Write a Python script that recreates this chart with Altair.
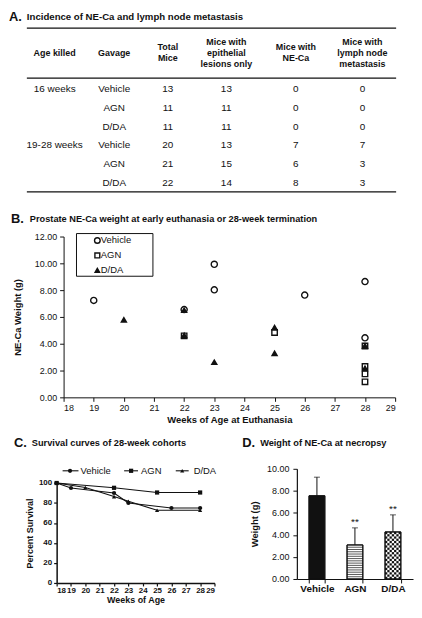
import altair as alt
import pandas as pd

FONT = "Liberation Sans"
INK = "#111111"

# ---------------- Panel A: table ----------------
table_headers = ["Age killed", "Gavage", "Total\nMice", "Mice with\nepithelial\nlesions only",
                 "Mice  with\nNE-Ca", "Mice with\nlymph node\nmetastasis"]
age_killed = ["16 weeks", "", "", "19-28 weeks", "", ""]
gavage = ["Vehicle", "AGN", "D/DA", "Vehicle", "AGN", "D/DA"]
total_mice = [13, 11, 11, 20, 21, 22]
epithelial_only = [13, 11, 11, 13, 15, 14]
mice_neca = [0, 0, 0, 7, 6, 8]
lymph_meta = [0, 0, 0, 7, 3, 3]

# ---------------- Panel B: scatter ----------------
groups = ["Vehicle", "AGN", "D/DA"]
b_vehicle_weeks = [19, 22, 23, 23, 26, 28, 28]
b_vehicle_wt = [7.23, 6.55, 9.93, 8.02, 7.63, 8.64, 4.44]
b_agn_weeks = [22, 25, 28, 28, 28, 28]
b_agn_wt = [4.59, 4.84, 3.83, 2.30, 1.75, 1.16]
b_dda_weeks = [20, 22, 22, 23, 25, 25, 28, 28]
b_dda_wt = [5.78, 6.50, 4.62, 2.62, 5.21, 3.28, 2.17, 3.85]

# ---------------- Panel C: survival ----------------
c_vehicle_weeks = [18, 19, 22, 23, 26, 28]
c_vehicle_surv = [100, 95, 90, 80, 75, 75]
c_agn_weeks = [18, 22, 25, 28]
c_agn_surv = [100, 95.2, 90.5, 90.5]
c_dda_weeks = [18, 20, 22, 23, 25, 28]
c_dda_surv = [100, 95.5, 86.4, 81.8, 72.7, 72.7]

# ---------------- Panel D: bars ----------------
d_mean = [7.55, 3.09, 4.27]
d_upper = [9.24, 4.64, 5.82]
d_sig = ["", "**", "**"]

shapes = ["circle", "square", "triangle-up"]
sym_size = {"circle": 38, "square": 30, "triangle-up": 26}


def one():
    return alt.Chart(pd.DataFrame({"k": [0]}))


def txt(text, x, y, size, weight="bold", align="left"):
    return one().mark_text(
        text=text, font=FONT, fontSize=size, fontWeight=weight, align=align,
        baseline="middle", color=INK).encode(x=alt.value(x), y=alt.value(y))


# ===== A =====
col_x = [-9, 51, 105, 164, 234, 301]
row_px = 19.075           # pixels per table row
line_rows = 11 / row_px   # header line spacing in row units
xA = alt.Scale(domain=list(range(6)), range=col_x, zero=False, nice=False)
yA = alt.Scale(domain=[-3.2, 5.45], range=[0, 165], zero=False, nice=False)

rows = []
for i in range(6):
    cells = [age_killed[i], gavage[i], total_mice[i], epithelial_only[i], mice_neca[i], lymph_meta[i]]
    for c, v in enumerate(cells):
        if v != "":
            rows.append({"row": i, "col": c, "txt": str(v)})
body = pd.DataFrame(rows)

hdr_rows = []
for c, h in enumerate(table_headers):
    parts = h.split("\n")
    n = len(parts)
    for k, p in enumerate(parts):
        hdr_rows.append({"col": c, "txt": p, "row": -1.9 + (k - (n - 1) / 2) * line_rows})
hdr = pd.DataFrame(hdr_rows)
rule_rows = pd.DataFrame({"row": [-3.2, -0.56, 5.45]})

A_body = alt.Chart(body).mark_text(font=FONT, fontSize=10, color=INK).encode(
    x=alt.X("col:Q", scale=xA, axis=None), y=alt.Y("row:Q", scale=yA, axis=None), text="txt:N")
A_hdr = alt.Chart(hdr).mark_text(font=FONT, fontSize=9, fontWeight="bold", color=INK).encode(
    x=alt.X("col:Q", scale=xA, axis=None), y=alt.Y("row:Q", scale=yA, axis=None), text="txt:N")
A_rules = alt.Chart(rule_rows).mark_rule(color=INK, strokeWidth=1.2).encode(
    y=alt.Y("row:Q", scale=yA, axis=None), x=alt.value(-37), x2=alt.value(335))
A = alt.layer(A_rules, A_hdr, A_body,
              txt("A.", -55, -11.5, 13),
              txt("Incidence of NE-Ca and lymph node metastasis", -37, -11.5, 9.7)
              ).properties(width=334, height=165)

# ===== B =====
dfB = pd.DataFrame({
    "week": b_vehicle_weeks + b_agn_weeks + b_dda_weeks,
    "wt": b_vehicle_wt + b_agn_wt + b_dda_wt,
    "group": ["Vehicle"] * len(b_vehicle_wt) + ["AGN"] * len(b_agn_wt) + ["D/DA"] * len(b_dda_wt),
})
xB = alt.X("week:Q", scale=alt.Scale(domain=[18, 29], nice=False, zero=False),
           axis=alt.Axis(values=list(range(18, 30)), format="d", title="Weeks of Age at Euthanasia",
                         labelFontSize=9, titleFontSize=9.5, titleFontWeight="bold",
                         tickSize=4, labelPadding=2, titlePadding=2))
yB = alt.Y("wt:Q", scale=alt.Scale(domain=[0, 12], nice=False),
           axis=alt.Axis(values=[0, 2, 4, 6, 8, 10, 12], format=".2f", title="NE-Ca Weight (g)",
                         labelFontSize=9, titleFontSize=9.5, titleFontWeight="bold",
                         tickSize=4, labelPadding=3, titlePadding=12))
b_fill = {"Vehicle": "transparent", "AGN": "transparent", "D/DA": INK}
B_layers = []
for g, shp in zip(groups, shapes):
    B_layers.append(
        alt.Chart(dfB).transform_filter(alt.datum.group == g).mark_point(
            shape=shp, filled=True, fill=b_fill[g], stroke=INK, strokeWidth=1.4,
            size=sym_size[shp], opacity=1
        ).encode(x=xB, y=yB))
# legend (box, symbols, labels)
B_leg = [one().mark_rect(fillOpacity=0, stroke=INK, strokeWidth=1).encode(
    x=alt.value(13), x2=alt.value(90), y=alt.value(-3), y2=alt.value(40))]
leg_rows_B = [4, 19, 34]
for g, shp, yy in zip(groups, shapes, leg_rows_B):
    B_leg.append(one().mark_point(shape=shp, filled=True, fill=b_fill[g], stroke=INK,
                                  strokeWidth=1.4, size=sym_size[shp] - 6, opacity=1).encode(
        x=alt.value(34), y=alt.value(yy)))
    B_leg.append(txt(g, 37.5, yy, 9.5, weight="normal"))
B = alt.layer(*B_layers, *B_leg,
              txt("B.", -53, -18, 13),
              txt("Prostate NE-Ca weight at early euthanasia or 28-week termination", -34, -18, 9.3)
              ).properties(width=334, height=162)

# ===== C =====
dfC = pd.DataFrame({
    "week": c_vehicle_weeks + c_agn_weeks + c_dda_weeks,
    "surv": c_vehicle_surv + c_agn_surv + c_dda_surv,
    "group": ["Vehicle"] * len(c_vehicle_surv) + ["AGN"] * len(c_agn_surv) + ["D/DA"] * len(c_dda_surv),
})
C_H = 142
xC = alt.X("week:Q", scale=alt.Scale(domain=[18, 29], range=[-7, 152], nice=False, zero=False),
           axis=alt.Axis(values=list(range(18, 30)), format="d", title="Weeks of Age",
                         labelFontSize=8, labelFontWeight="bold", titleFontSize=9, titleFontWeight="bold",
                         tickSize=3, labelPadding=1, titlePadding=1, domainWidth=1.5, tickWidth=1.2))
yC = alt.Y("surv:Q", scale=alt.Scale(domain=[0, 100], range=[C_H, C_H - 100.7], nice=False),
           axis=alt.Axis(values=[0, 20, 40, 60, 80, 100], title="Percent Survival", offset=7,
                         labelFontSize=8, labelFontWeight="bold", titleFontSize=9, titleFontWeight="bold",
                         tickSize=3, labelPadding=2, titlePadding=4, domainWidth=1.5, tickWidth=1.2))
C_line = alt.Chart(dfC).mark_line(color=INK, strokeWidth=1.1).encode(x=xC, y=yC, detail="group:N")
C_pts = []
for g, shp in zip(groups, shapes):
    C_pts.append(alt.Chart(dfC).transform_filter(alt.datum.group == g).mark_point(
        shape=shp, filled=True, color=INK, size=18, opacity=1).encode(x=xC, y=yC))

leg_line = [(-1, 15), (61, 75), (113, 126)]
leg_mark = [6.5, 68, 119.5]
leg_text = [17, 78, 131]
leg_y = 29
C_leg = []
for g, shp, (l0, l1), mx, tx in zip(groups, shapes, leg_line, leg_mark, leg_text):
    C_leg.append(one().mark_rule(color=INK, strokeWidth=1.1).encode(
        x=alt.value(l0), x2=alt.value(l1), y=alt.value(leg_y)))
    C_leg.append(one().mark_point(shape=shp, filled=True, color=INK, size=18, opacity=1).encode(
        x=alt.value(mx), y=alt.value(leg_y)))
    C_leg.append(txt(g, tx, leg_y, 9.5, weight="normal"))
C = alt.layer(C_line, *C_pts, *C_leg,
              txt("C.", -50, 1, 13),
              txt("Survival curves of 28-week cohorts", -32, 1, 9.3)
              ).properties(width=152, height=C_H)

# ===== D =====
D_H = 138
dfD = pd.DataFrame({"group": groups, "mean": d_mean, "upper": d_upper, "sig": d_sig})
xD = alt.X("group:N", sort=groups, scale=alt.Scale(domain=groups, paddingInner=0.584, paddingOuter=0.32),
           axis=alt.Axis(title=None, labelAngle=0, tickBand="extent", labelFontWeight="bold",
                         labelFontSize=10, tickSize=4, labelPadding=1, domainWidth=1.2))


def yD(field):
    return alt.Y(field, type="quantitative",
                 scale=alt.Scale(domain=[0, 10], range=[D_H, D_H - 111], nice=False),
                 axis=alt.Axis(values=[0, 2, 4, 6, 8, 10], format=".2f", title="Weight (g)",
                               labelFontSize=9, titleFontSize=9.5, titleFontWeight="bold",
                               tickSize=4, labelPadding=4, titlePadding=7, domainWidth=1.2))


# texture of AGN (horizontal stripes) and D/DA (checkerboard) bars
agn_i = groups.index("AGN")
n_stripes = 15
stripes = pd.DataFrame({"group": ["AGN"] * (n_stripes - 1),
                        "y": [d_mean[agn_i] * k / n_stripes for k in range(1, n_stripes)]})
dda_i = groups.index("D/DA")
n_rows, n_cols = 21, 7
chk = []
for r in range(n_rows):
    for c in range(n_cols):
        if (r + c) % 2 == 0:
            chk.append({"group": "D/DA", "c": c,
                        "y0": d_mean[dda_i] * r / n_rows, "y1": d_mean[dda_i] * (r + 1) / n_rows})
chk = pd.DataFrame(chk)

D_black = alt.Chart(dfD).transform_filter(alt.datum.group == "Vehicle").mark_bar(
    fill=INK, stroke=INK, strokeWidth=1).encode(x=xD, y=yD("mean"))
D_white = alt.Chart(dfD).transform_filter(alt.datum.group != "Vehicle").mark_bar(
    fill="white", stroke=INK, strokeWidth=1).encode(x=xD, y=yD("mean"))
D_stripes = alt.Chart(stripes).mark_tick(color=INK, size=16, thickness=1).encode(x=xD, y=yD("y"))
D_chk = alt.Chart(chk).mark_bar(color=INK).encode(
    x=xD, xOffset=alt.XOffset("c:O", scale=alt.Scale(paddingInner=0, paddingOuter=0)),
    y=yD("y0"), y2="y1")
D_outline = alt.Chart(dfD).mark_bar(fillOpacity=0, stroke=INK, strokeWidth=1).encode(x=xD, y=yD("mean"))
D_err = alt.Chart(dfD).mark_rule(color=INK, strokeWidth=1).encode(x=xD, y=yD("mean"), y2="upper")
D_cap = alt.Chart(dfD).mark_tick(color=INK, size=6, thickness=1).encode(x=xD, y=yD("upper"))
D_star = alt.Chart(dfD).mark_text(font=FONT, fontSize=10, color=INK, dy=-6).encode(
    x=xD, y=yD("upper"), text="sig:N")
D = alt.layer(D_black, D_white, D_stripes, D_chk, D_outline, D_err, D_cap, D_star,
              txt("D.", -55, 1, 13),
              txt("Weight of NE-Ca at necropsy", -37, 1, 9.3)
              ).properties(width=117, height=D_H)

chart = alt.vconcat(
    A, B, alt.hconcat(C, D, spacing=83, bounds="flush"),
    spacing=45, bounds="flush"
).properties(
    padding={"left": 0, "top": 0, "right": 0, "bottom": 0}
).configure_view(stroke="transparent").configure_axis(
    grid=False, domainColor=INK, tickColor=INK, labelColor=INK, titleColor=INK,
    labelFont=FONT, titleFont=FONT
).configure_text(font=FONT)

chart.save("out.html", embed_options={"renderer": "svg", "actions": False})
